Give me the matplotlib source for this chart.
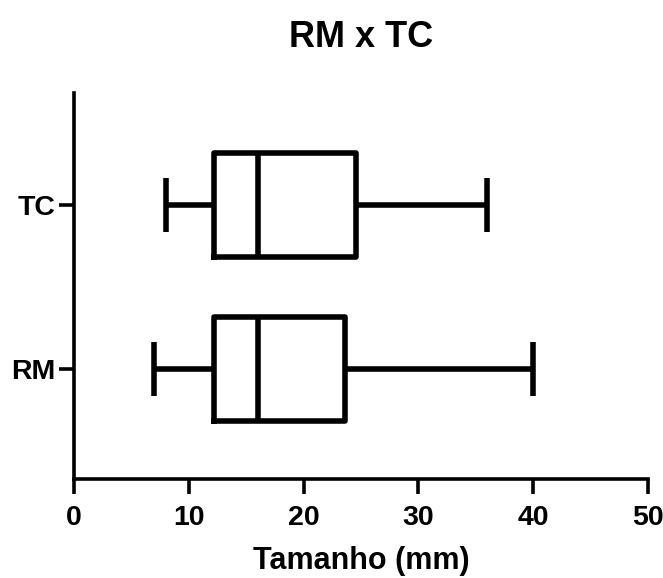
import matplotlib
matplotlib.use("Agg")
import matplotlib.pyplot as plt

plt.rcParams['font.family'] = ['Liberation Sans', 'DejaVu Sans']
plt.rcParams['font.weight'] = 'bold'

groups = ['RM', 'TC']
whisker_low = [7, 8]
q1 = [12.2, 12.2]
median = [16, 16]
q3 = [23.6, 24.6]
whisker_high = [40, 36]

stats = []
for i, g in enumerate(groups):
    stats.append({'label': g, 'whislo': whisker_low[i], 'q1': q1[i], 'med': median[i],
                  'q3': q3[i], 'whishi': whisker_high[i], 'fliers': []})

fig = plt.figure(figsize=(6.63, 5.78), dpi=100, facecolor='white')
# axes box in pixels: left 74, right 648, top 93, bottom 479
ax = fig.add_axes([74 / 663, 99 / 578, 574 / 663, 386 / 578])

lw = 4.0
ax.bxp(stats, positions=[1, 2], vert=False, widths=0.634, showfliers=False,
       boxprops=dict(linewidth=lw, color='black'),
       medianprops=dict(linewidth=lw, color='black', solid_capstyle='butt'),
       whiskerprops=dict(linewidth=lw, color='black', solid_capstyle='butt'),
       capprops=dict(linewidth=lw, color='black', solid_capstyle='butt'),
       capwidths=0.33)

ax.set_xlim(0, 50)
ax.set_ylim(0.33, 2.68)
ax.set_xticks([0, 10, 20, 30, 40, 50])
ax.spines['top'].set_visible(False)
ax.spines['right'].set_visible(False)
ax.spines['left'].set_linewidth(2.6)
ax.spines['bottom'].set_linewidth(2.6)
ax.tick_params(width=2.6, length=10.5, labelsize=20.5, pad=8)
ax.tick_params(axis='y', pad=3)
for lab in ax.get_xticklabels() + ax.get_yticklabels():
    lab.set_fontweight('bold')

ax.set_xlabel('Tamanho (mm)', fontsize=22, fontweight='bold', labelpad=11)
ax.set_title('RM x TC', fontsize=26, fontweight='bold', pad=33)

fig.savefig('out.png', dpi=100)
